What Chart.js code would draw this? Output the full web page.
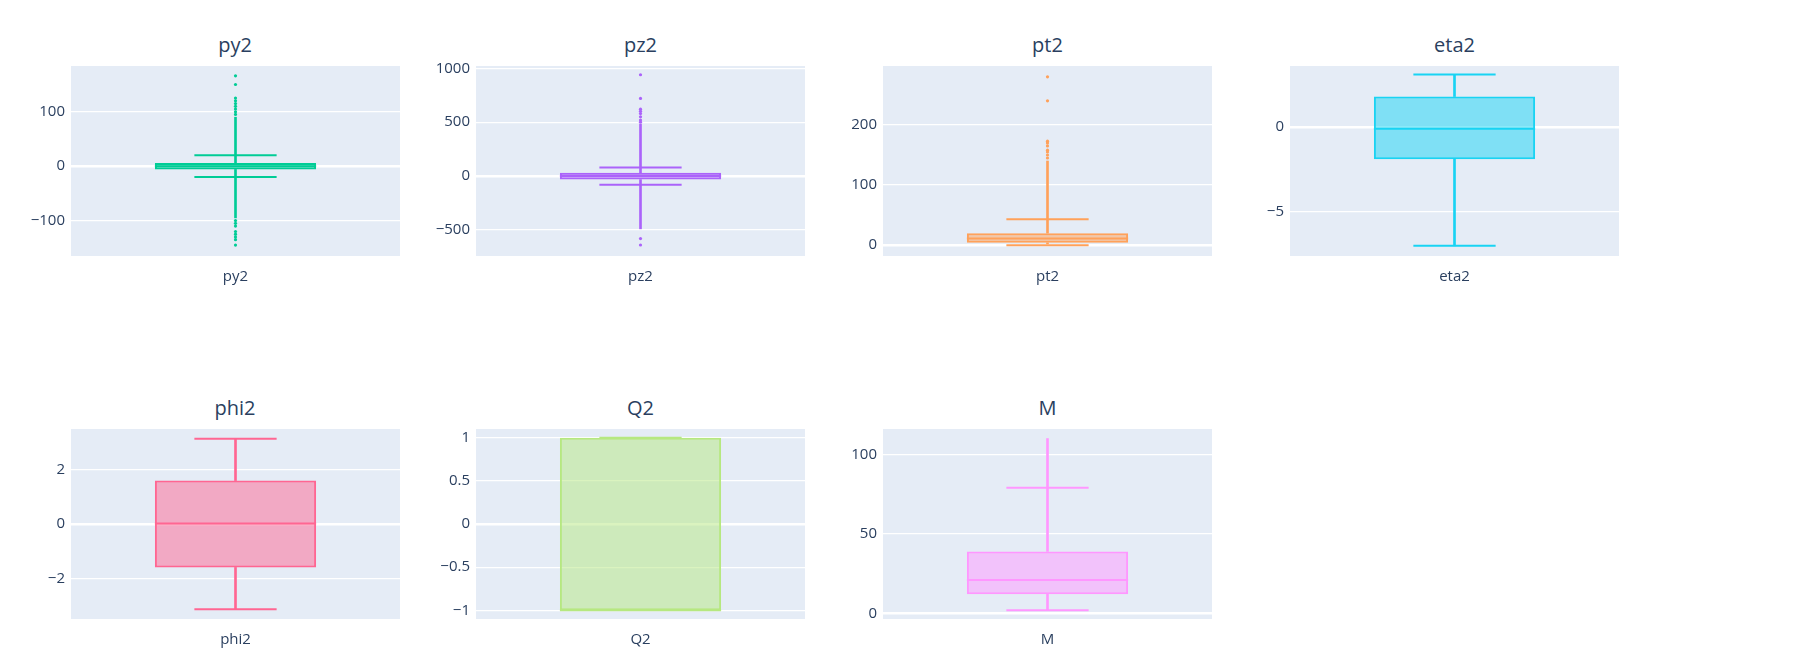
<!DOCTYPE html>
<html><head><meta charset="utf-8">
<script src="https://cdn.jsdelivr.net/npm/chart.js@4"></script>
<style>
body{margin:0;background:#fff;width:1813px;height:670px;position:relative;overflow:hidden;font-family:"Open Sans",sans-serif}
.t{position:absolute;text-align:center;font-size:20px;color:#2a3f5f;line-height:22px}
canvas{position:absolute}
</style></head><body>
<script>
// ---- data ----
const names = ["py2","pz2","pt2","eta2","phi2","Q2","M"];
const colors = ["#00CC96","#AB63FA","#FFA15A","#19D3F3","#FF6692","#B6E880","#FF97FF"];
const q1 = [-6,-33,4,-1.9,-1.6,-1,12];
const median = [0,0,11,-0.1,0.02,-1,21];
const q3 = [6,30,20,1.8,1.6,1,39];
const lowerFence = [-20,-80,0,-7,-3.14,-1,2];
const upperFence = [20,80,43,3.1,3.14,1,79];
// dense outlier runs (min,max) beyond fences
const denseHigh = [[20,90],[80,480],[43,140],null,null,null,[79,110]];
const denseLow = [[-95,-20],[-490,-80],null,null,null,null,null];
const sparseOutliers = [
  [95,100,105,110,115,120,125,150,166,-100,-105,-110,-120,-125,-130,-135,-145],
  [500,520,550,580,600,620,720,940,-580,-640],
  [145,150,155,158,165,170,173,240,280],
  [],[],[],[]
];
const yMin = [-165,-742,-18,-7.6,-3.5,-1.1,-3.5];
const yMax = [184,1021,298,3.6,3.5,1.1,116];
const yTicks = [
  [-100,0,100],[-500,0,500,1000],[0,100,200],[-5,0],[-2,0,2],[-1,-0.5,0,0.5,1],[0,50,100]
];
// ---- layout ----
const colLeft=[70.5,476,883,1290], plotW=329, rowTop=[59,422], plotH=197;
const AX=55, PT=8, XH=30;

function rgba(hex,a){const n=parseInt(hex.slice(1),16);return `rgba(${n>>16},${(n>>8)&255},${n&255},${a})`;}

const bgPlugin={id:'bg',beforeDraw(c){const a=c.chartArea,x=c.ctx;x.save();x.fillStyle='#E5ECF6';x.fillRect(a.left,a.top,a.right-a.left,a.bottom-a.top);x.restore();}};
const boxPlugin={id:'boxextra',afterDatasetsDraw(c){
  const i=c.options.plugins.boxextra.idx, ctx=c.ctx, xs=c.scales.x, ys=c.scales.y;
  const cx=xs.getPixelForValue(0), w=(c.chartArea.right-c.chartArea.left);
  const capW=w*0.25, boxW=w*0.49;
  ctx.save();ctx.strokeStyle=colors[i];ctx.lineWidth=2;
  ctx.beginPath();
  [lowerFence[i],upperFence[i]].forEach(v=>{const y=ys.getPixelForValue(v);ctx.moveTo(cx-capW/2,y);ctx.lineTo(cx+capW/2,y);});
  const ym=ys.getPixelForValue(median[i]);ctx.moveTo(cx-boxW/2,ym);ctx.lineTo(cx+boxW/2,ym);
  ctx.stroke();ctx.restore();
}};

names.forEach((nm,i)=>{
  const col=i<4?i:i-4,row=i<4?0:1;
  const L=colLeft[col],T=rowTop[row];
  const t=document.createElement('div');t.className='t';t.textContent=nm;
  t.style.left=L+'px';t.style.width=plotW+'px';t.style.top=(T-25)+'px';document.body.appendChild(t);
  const cv=document.createElement('canvas');
  const W=AX+plotW+5,H=PT+plotH+XH;
  cv.style.left=(L-AX)+'px';cv.style.top=(T-PT)+'px';cv.style.width=W+'px';cv.style.height=H+'px';
  cv.width=W;cv.height=H;document.body.appendChild(cv);
  const ds=[
    {type:'bar',data:[[q1[i],q3[i]]],backgroundColor:rgba(colors[i],0.5),borderColor:colors[i],borderWidth:2,borderSkipped:false,barPercentage:0.49,categoryPercentage:1,grouped:false,order:1},
    {type:'bar',data:[[lowerFence[i],q1[i]]],backgroundColor:colors[i],barThickness:2,grouped:false,order:2},
    {type:'bar',data:[[q3[i],upperFence[i]]],backgroundColor:colors[i],barThickness:2,grouped:false,order:2},
  ];
  if(denseHigh[i])ds.push({type:'bar',data:[denseHigh[i]],backgroundColor:colors[i],barThickness:2,grouped:false,order:2});
  if(denseLow[i])ds.push({type:'bar',data:[denseLow[i]],backgroundColor:colors[i],barThickness:2,grouped:false,order:2});
  ds.push({type:'scatter',data:sparseOutliers[i].map(v=>({x:nm,y:v})),backgroundColor:colors[i],borderWidth:0,pointRadius:1.6,order:0});
  new Chart(cv,{
    data:{labels:[nm],datasets:ds},
    plugins:[bgPlugin,boxPlugin],
    options:{responsive:false,animation:false,devicePixelRatio:1,
      layout:{padding:{top:PT,right:5,left:0,bottom:0}},
      plugins:{legend:{display:false},tooltip:{enabled:false},boxextra:{idx:i}},
      scales:{
        x:{type:'category',grid:{display:false},border:{display:false},
          ticks:{color:'#2a3f5f',font:{family:'Open Sans',size:15},padding:4},
          afterFit(s){s.height=XH;}},
        y:{min:yMin[i],max:yMax[i],
          afterBuildTicks(s){s.ticks=yTicks[i].map(v=>({value:v}));},
          ticks:{color:'#2a3f5f',font:{family:'Open Sans',size:15},padding:6,
            callback:v=>String(v).replace('-','\u2212')},
          grid:{color:'#fff',lineWidth:c=>c.tick&&c.tick.value===0?2.5:1.2,drawTicks:false},
          border:{display:false},
          afterFit(s){s.width=AX;}}
      }}
  });
});
</script></body></html>
